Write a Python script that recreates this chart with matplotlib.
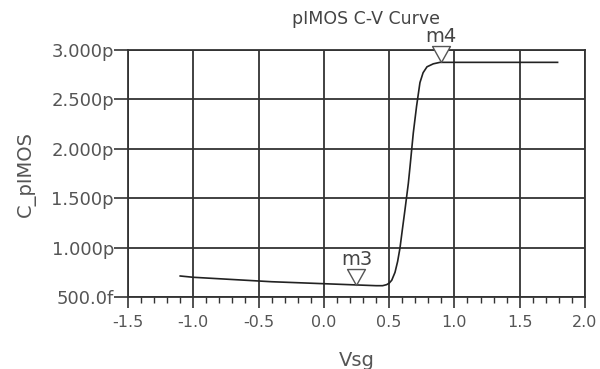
import matplotlib
matplotlib.use("Agg")
import matplotlib.pyplot as plt
from matplotlib.path import Path
from matplotlib.ticker import MultipleLocator, FuncFormatter

plt.rcParams['font.family'] = ['DejaVu Sans']

# C-V curve (Vsg in V, capacitance in pF)
vsg = [-1.1, -1.0, -0.8, -0.6, -0.4, -0.2, 0.0, 0.2, 0.3, 0.4, 0.45, 0.48,
       0.5, 0.52, 0.545, 0.565, 0.583, 0.60, 0.621, 0.647, 0.66, 0.685,
       0.71, 0.736, 0.76, 0.79, 0.838, 0.889, 1.0, 1.2, 1.5, 1.79]
cap = [0.713, 0.70, 0.685, 0.67, 0.655, 0.645, 0.635, 0.625, 0.62, 0.615,
       0.615, 0.625, 0.64, 0.67, 0.75, 0.86, 0.996, 1.17, 1.38, 1.65, 1.82,
       2.16, 2.43, 2.67, 2.77, 2.83, 2.86, 2.875, 2.875, 2.875, 2.875, 2.875]

markers = ["m3", "m4"]
marker_x = [0.25, 0.9]
marker_y = [0.62, 2.875]

xticks = [-1.5, -1.0, -0.5, 0.0, 0.5, 1.0, 1.5, 2.0]
yticks = [0.5, 1.0, 1.5, 2.0, 2.5, 3.0]

txt = "#555555"
grid = "#333333"

fig = plt.figure(figsize=(6, 3.69), dpi=100)
ax = fig.add_axes([0.2133, 0.195, 0.7617, 0.6695])

ax.plot(vsg, cap, color="#222222", lw=1.2, zorder=3)

# triangle marker with its tip on the data point
tri = Path([(0, 0), (-0.56, 1), (0.56, 1), (0, 0)],
           [Path.MOVETO, Path.LINETO, Path.LINETO, Path.CLOSEPOLY])
for name, mx, my in zip(markers, marker_x, marker_y):
    ax.plot([mx], [my], marker=tri, markersize=23, mfc="white",
            mec="#555555", mew=1.0, zorder=4, clip_on=False)
    ax.annotate(name, (mx, my), xytext=(0, 12), textcoords="offset points",
                ha="center", va="bottom", fontsize=14, color="#444444",
                annotation_clip=False)

ax.set_xlim(-1.5, 2.0)
ax.set_ylim(0.5, 3.0)
ax.set_xticks(xticks)
ax.set_yticks(yticks)
ax.xaxis.set_minor_locator(MultipleLocator(0.1))
ax.xaxis.set_major_formatter(FuncFormatter(lambda v, p: "%.1f" % v))
ax.yaxis.set_major_formatter(
    FuncFormatter(lambda v, p: "500.0f" if v < 0.75 else "%.3fp" % v))

ax.grid(True, which="major", color=grid, lw=1.3)
for s in ax.spines.values():
    s.set_color(grid)
    s.set_linewidth(1.3)

ax.tick_params(axis="x", which="major", length=8, width=1.2, color=grid,
               labelsize=11.5, labelcolor=txt, pad=5)
ax.tick_params(axis="x", which="minor", length=4.5, width=1.0, color=grid)
ax.tick_params(axis="y", which="major", length=10, width=1.2, color=grid,
               labelsize=13, labelcolor=txt, pad=0)

ax.set_title("pIMOS C-V Curve", fontsize=12.5, color="#444444", pad=19, x=0.52)
ax.set_xlabel("Vsg", fontsize=14, color=txt, labelpad=15)
ax.set_ylabel("C_pIMOS", fontsize=14, color=txt, labelpad=11)

fig.savefig("out.png", dpi=100)
